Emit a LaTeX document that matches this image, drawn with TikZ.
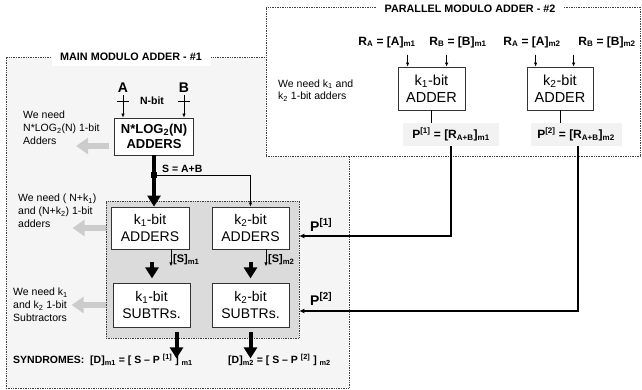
\documentclass[tikz,border=0pt]{standalone}
\usepackage{fontspec}
\setmainfont{Liberation Sans}
\usetikzlibrary{arrows.meta,calc}
\begin{document}
\begin{tikzpicture}[x=1pt,y=-1pt,
  frame/.style={draw=black!75, densely dotted, line width=0.7pt, inner sep=0pt},
  blk/.style={draw=black!80, line width=0.8pt, fill=white, align=center, inner sep=0pt},
  thinarr/.style={line width=0.7pt, -{Latex[length=4pt,width=3.5pt]}},
  fatarr/.style={line width=4pt, -{Triangle[length=11pt,width=13pt]}},
  grayarr/.style={line width=6pt, draw=gray!40, -{Triangle[length=12pt,width=16pt]}},
  busarr/.style={line width=2.2pt, -{Latex[length=5pt,width=5pt]}},
  note/.style={font=\fontsize{10.5}{12.8}\selectfont, align=left, inner sep=0pt, anchor=west},
  ttl/.style={fill=white, font=\bfseries\fontsize{10.8}{12}\selectfont, inner sep=0pt},
  lbl/.style={font=\bfseries\fontsize{10.5}{12}\selectfont, inner sep=0pt},
  plbl/.style={font=\bfseries\fontsize{12}{14}\selectfont, inner sep=0pt}
]
\useasboundingbox (0,0) rectangle (642,390);
\fill[white] (0,0) rectangle (642,390);

% frames
\node[frame, fill=gray!8, minimum width=343pt, minimum height=331pt] (main) at (177.5,222.5) {};
\node[ttl, minimum width=159pt, minimum height=18pt] (mtitle) at (131,57) {MAIN MODULO ADDER - \#1};
\node[frame, fill=white, minimum width=374pt, minimum height=149pt] (par) at (453,81.5) {};
\node[ttl, minimum width=186pt, minimum height=10pt] (ptitle) at (470,9) {PARALLEL MODULO ADDER - \#2};
\node[frame, fill=gray!28, minimum width=193pt, minimum height=137pt] (inner) at (202.5,269.5) {};

% main adder blocks
\node[blk, minimum width=79pt, minimum height=37pt, font=\bfseries\fontsize{13}{15}\selectfont] (nlog) at (154,136.5) {N*LOG\textsubscript{2}(N)\\ADDERS};
\node[blk, minimum width=78pt, minimum height=42pt, font=\fontsize{14}{17}\selectfont] (k1add) at (150,228) {k\textsubscript{1}-bit\\ADDERS};
\node[blk, minimum width=77pt, minimum height=42pt, font=\fontsize{14}{17}\selectfont] (k2add) at (250.5,228) {k\textsubscript{2}-bit\\ADDERS};
\node[blk, minimum width=77pt, minimum height=44pt, font=\fontsize{14}{17}\selectfont] (k1sub) at (151.5,305) {k\textsubscript{1}-bit\\SUBTRs.};
\node[blk, minimum width=77pt, minimum height=44pt, font=\fontsize{14}{17}\selectfont] (k2sub) at (250.5,305) {k\textsubscript{2}-bit\\SUBTRs.};

% inputs A, B
\node[font=\bfseries\fontsize{14}{14}\selectfont, inner sep=0pt] (A) at (123,88) {A};
\node[font=\bfseries\fontsize{14}{14}\selectfont, inner sep=0pt] (B) at (184,88) {B};
\node[lbl] (nbit) at (152,101) {N-bit};
\draw[thinarr] ($(A)+(0,7)$) -- (A |- nlog.north);
\draw[thinarr] ($(B)+(0,7)$) -- (B |- nlog.north);
\draw[line width=0.7pt] ($(A)+(-6,13)$) -- ($(A)+(6,13)$);
\draw[line width=0.7pt] ($(B)+(-6,13)$) -- ($(B)+(6,13)$);

% sum bus
\node[fill=black, minimum size=6pt, inner sep=0pt] (jn) at ($(nlog.south)+(0,20)$) {};
\draw[fatarr] (nlog.south) -- (nlog.south |- k1add.north);
\draw[thinarr] (jn.center) -| (k2add.north);
\node[lbl, anchor=west] (sab) at (162,169) {S = A+B};

% adders to subtractors
\draw[fatarr] ($(k1add.south)+(2,13)$) -- ($(k1add.south)+(2,29)$);
\draw[fatarr] ($(k2add.south)+(0,13)$) -- ($(k2add.south)+(0,29)$);
\draw[thinarr] ($(k1add.south)+(21,0)$) -- ++(0,17);
\draw[thinarr] ($(k2add.south)+(15.5,0)$) -- ++(0,17);
\node[font=\bfseries\fontsize{11}{12}\selectfont, inner sep=0pt, anchor=west] (s1) at (173,260) {[S]\textsubscript{m1}};
\node[font=\bfseries\fontsize{11}{12}\selectfont, inner sep=0pt, anchor=west] (s2) at (268,260) {[S]\textsubscript{m2}};

% syndromes
\draw[fatarr] ($(k1sub.south)+(25,5)$) -- ++(0,26);
\draw[fatarr] ($(k2sub.south)+(0,5)$) -- ++(0,26);
\node[lbl, anchor=west] (syn1) at (13,360) {SYNDROMES:\ \ [D]\textsubscript{m1} = [ S -- P \textsuperscript{[1]} ] \textsubscript{m1}};
\node[lbl, anchor=west] (syn2) at (228,360) {[D]\textsubscript{m2} = [ S -- P \textsuperscript{[2]} ] \textsubscript{m2}};

% notes and gray arrows
\node[note] (n1) at (23,128) {We need\\N*LOG\textsubscript{2}(N) 1-bit\\Adders};
\node[note] (n2) at (18,211) {We need ( N+k\textsubscript{1})\\and (N+k\textsubscript{2}) 1-bit\\adders};
\node[note] (n3) at (13,305) {We need k\textsubscript{1}\\and k\textsubscript{2} 1-bit\\Subtractors};
\draw[grayarr] ($(nlog.west)+(-5,9.5)$) -- ++(-33,0);
\draw[grayarr] (inner.west |- k1add) -- ++(-33,0);
\draw[grayarr] (inner.west |- k1sub) -- ++(-34,0);

% parallel adder
\node[note] (n4) at (278,90.5) {We need k\textsubscript{1} and\\k\textsubscript{2} 1-bit adders};
\node[blk, minimum width=67pt, minimum height=43pt, font=\fontsize{14.5}{16.5}\selectfont] (padd1) at (431.5,88.5) {k\textsubscript{1}-bit\\ADDER};
\node[blk, minimum width=66pt, minimum height=43pt, font=\fontsize{14.5}{16.5}\selectfont] (padd2) at (560,88.5) {k\textsubscript{2}-bit\\ADDER};
\node[plbl] (ra1) at (387,42) {R\textsubscript{A} = [A]\textsubscript{m1}};
\node[plbl] (rb1) at (458,42) {R\textsubscript{B} = [B]\textsubscript{m1}};
\node[plbl] (ra2) at (532,42) {R\textsubscript{A} = [A]\textsubscript{m2}};
\node[plbl] (rb2) at (607,42) {R\textsubscript{B} = [B]\textsubscript{m2}};
\draw[thinarr] ([xshift=10pt]padd1.north west) ++(0,-12) -- ([xshift=10pt]padd1.north west);
\draw[thinarr] ([xshift=49pt]padd1.north west) ++(0,-12) -- ([xshift=49pt]padd1.north west);
\draw[thinarr] ([xshift=9pt]padd2.north west) ++(0,-12) -- ([xshift=9pt]padd2.north west);
\draw[thinarr] ([xshift=47pt]padd2.north west) ++(0,-12) -- ([xshift=47pt]padd2.north west);
\node[plbl, fill=gray!10, minimum width=96pt, minimum height=23pt] (pl1) at (451,134.5) {P\textsuperscript{[1]} = [R\textsubscript{A+B}]\textsubscript{m1}};
\node[plbl, fill=gray!10, minimum width=91pt, minimum height=23pt] (pl2) at (576,134.5) {P\textsuperscript{[2]} = [R\textsubscript{A+B}]\textsubscript{m2}};
\draw[line width=0.7pt] (padd1.south) -- (padd1.south |- pl1.north);
\draw[line width=0.7pt] (padd2.south) -- (padd2.south |- pl2.north);

% feedback buses
\draw[busarr] (pl1.south) |- ($(inner.east)+(0,-33.5)$);
\draw[busarr] ([xshift=2pt]pl2.south) |- ($(inner.east)+(0,41.5)$);
\node[font=\bfseries\fontsize{14}{14}\selectfont, inner sep=0pt, anchor=west] (p1) at (310,225) {P\textsuperscript{[1]}};
\node[font=\bfseries\fontsize{14}{14}\selectfont, inner sep=0pt, anchor=west] (p2) at (310,299) {P\textsuperscript{[2]}};
\end{tikzpicture}
\end{document}
